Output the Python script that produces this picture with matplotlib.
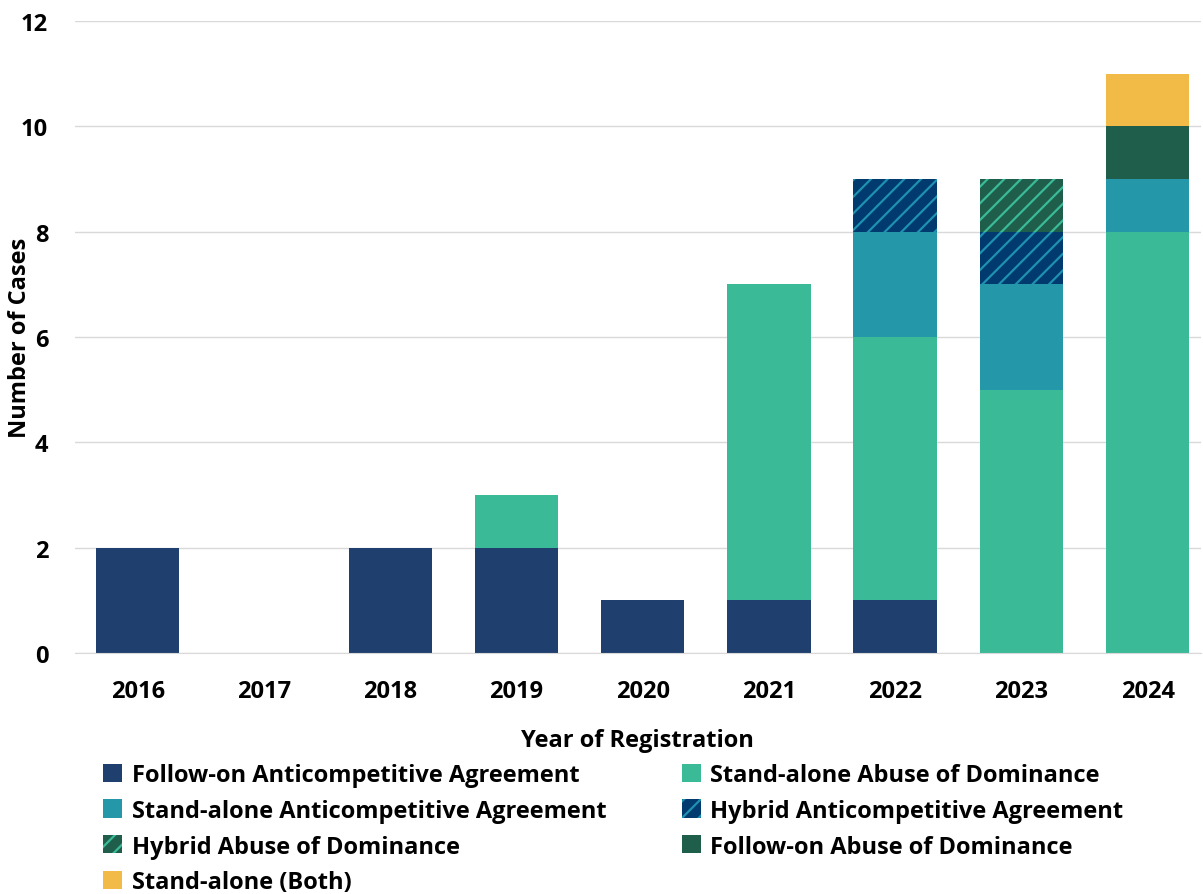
import matplotlib
matplotlib.use("Agg")
import matplotlib.pyplot as plt
import numpy as np

years = ["2016", "2017", "2018", "2019", "2020", "2021", "2022", "2023", "2024"]

follow_on_aa = [2, 0, 2, 2, 1, 1, 1, 0, 0]
stand_alone_aod = [0, 0, 0, 1, 0, 6, 5, 5, 8]
stand_alone_aa = [0, 0, 0, 0, 0, 0, 2, 2, 1]
hybrid_aa = [0, 0, 0, 0, 0, 0, 1, 1, 0]
hybrid_aod = [0, 0, 0, 0, 0, 0, 0, 1, 0]
follow_on_aod = [0, 0, 0, 0, 0, 0, 0, 0, 1]
stand_alone_both = [0, 0, 0, 0, 0, 0, 0, 0, 1]

plt.rcParams["font.family"] = ["Open Sans", "DejaVu Sans"]
plt.rcParams["hatch.linewidth"] = 1.6
FS = 17

# (label, data, face, hatch colour, hatch)
series = [
    ("Follow-on Anticompetitive Agreement", follow_on_aa, "#1F3F6E", None, None),
    ("Stand-alone Abuse of Dominance", stand_alone_aod, "#3BBA98", None, None),
    ("Stand-alone Anticompetitive Agreement", stand_alone_aa, "#2497A8", None, None),
    ("Hybrid Anticompetitive Agreement", hybrid_aa, "#003A6E", "#1E90B0", "//"),
    ("Hybrid Abuse of Dominance", hybrid_aod, "#1E5E4A", "#3BBA98", "//"),
    ("Follow-on Abuse of Dominance", follow_on_aod, "#1E5E4A", None, None),
    ("Stand-alone (Both)", stand_alone_both, "#F2BA47", None, None),
]

fig = plt.figure(figsize=(12.03, 8.95), dpi=100)
ax = fig.add_axes([0.062, 0.2693, 0.936, 0.7061])

x = np.arange(len(years))
bottom = np.zeros(len(years))
handles = []
for label, vals, face, hc, hatch in series:
    vals = np.array(vals, dtype=float)
    if hatch:
        b = ax.bar(x, vals, 0.66, bottom=bottom, color=face, edgecolor=hc,
                   linewidth=0, hatch=hatch, label=label, zorder=3)
    else:
        b = ax.bar(x, vals, 0.66, bottom=bottom, color=face, linewidth=0,
                   label=label, zorder=3)
    handles.append(b)
    bottom += vals

ax.set_ylim(0, 12)
ax.set_xlim(-0.5, 8.42)
ax.set_yticks(range(0, 13, 2))
ax.set_xticks(x)
ax.set_xticklabels(years)
ax.tick_params(axis="x", length=0, labelsize=FS, pad=19)
ax.tick_params(axis="y", length=0, labelsize=FS, pad=19)
for lbl in ax.get_xticklabels() + ax.get_yticklabels():
    lbl.set_fontweight("bold")
ax.grid(axis="y", color="#D9D9D9", linewidth=1, zorder=0)
for s in ["top", "right", "left"]:
    ax.spines[s].set_visible(False)
ax.spines["bottom"].set_color("#D9D9D9")
ax.spines["bottom"].set_zorder(4)

ax.set_ylabel("Number of Cases", fontsize=FS, fontweight="bold")
ax.set_xlabel("Year of Registration", fontsize=FS, fontweight="bold", labelpad=18)
ax.yaxis.set_label_coords(-0.038, 0.5)

# legend reads row by row: reorder for column-wise filling
order = [0, 2, 4, 6, 1, 3, 5]
leg = fig.legend(handles=[handles[i] for i in order], loc="upper left",
                 bbox_to_anchor=(0.078, 0.157), ncol=2, frameon=False,
                 prop={"size": FS, "weight": "bold"}, handlelength=0.8,
                 handleheight=0.8, handletextpad=0.4, columnspacing=3.2,
                 labelspacing=0.5, borderaxespad=0)

fig.savefig("out.png", dpi=100)
